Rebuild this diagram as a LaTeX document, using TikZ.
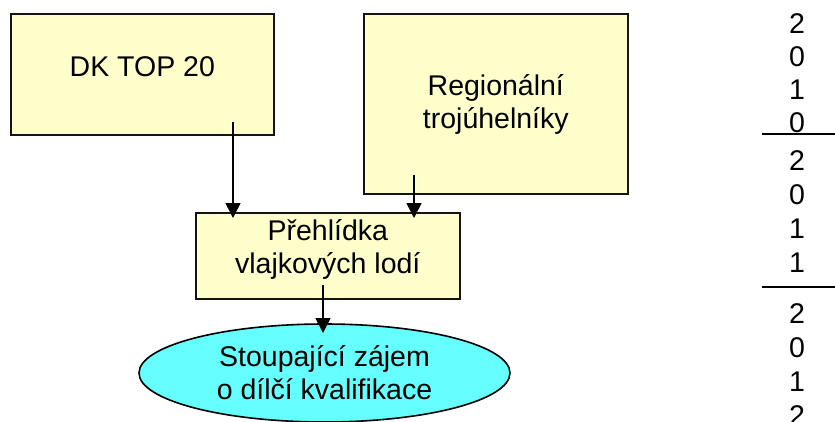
\documentclass[tikz,border=0pt]{standalone}
\usepackage{fontspec}
\setmainfont{Liberation Sans}
\usetikzlibrary{arrows.meta,shapes.geometric}
\definecolor{boxfill}{RGB}{255,255,204}
\definecolor{ellfill}{RGB}{102,255,255}
\definecolor{edge}{RGB}{20,20,20}
\tikzset{
  box/.style={draw=edge, fill=boxfill, line width=1.6pt, inner sep=0pt, anchor=north west},
  txt/.style={font=\fontsize{28.5}{33}\selectfont, align=center, inner sep=0pt},
  arr/.style={draw=black, line width=1.6pt, -{Triangle[width=15pt,length=15pt]}},
  rule/.style={draw=black, line width=1.6pt},
}
\begin{document}
\begin{tikzpicture}[x=1pt,y=-1pt]
\useasboundingbox (0,0) rectangle (835,421);
\clip (0,0) rectangle (835,421);
% boxes
\node[box, minimum width=263pt, minimum height=121pt,
      label={[txt,anchor=center,yshift=7.5pt]center:DK TOP 20}] (dk) at (10,13) {};
\node[box, minimum width=264pt, minimum height=180pt,
      label={[txt,anchor=center,yshift=-0.5pt]center:Regionální\\trojúhelníky}] (reg) at (363,13) {};
\node[box, minimum width=264pt, minimum height=86pt,
      label={[txt,anchor=center,yshift=6.5pt]center:Přehlídka\\vlajkových lodí}] (pr) at (195,212) {};
\node[ellipse, draw=black, fill=ellfill, line width=1.6pt, minimum width=371pt, minimum height=98pt, inner sep=0pt,
      txt, xshift=0pt] (el) at (324.5,373) {Stoupající zájem\\o dílčí kvalifikace};
% connector end points
\coordinate (a1s) at (233,122);
\coordinate (a1e) at (233,218);
\coordinate (a2s) at (414,175);
\coordinate (a2e) at (414,218);
\coordinate (a3s) at (323,285);
\coordinate (a3e) at (323,333);
\draw[arr] (a1s) -- (a1e);
\draw[arr] (a2s) -- (a2e);
\draw[arr] (a3s) -- (a3e);
% right column of years
\node[txt] (y1) at (797,73) {2\\0\\1\\0};
\node[txt, font=\fontsize{28.5}{34}\selectfont] (y2) at (797,212) {2\\0\\1\\1};
\node[txt, font=\fontsize{28.5}{34}\selectfont] (y3) at (797,365) {2\\0\\1\\2};
\draw[rule] (762,134) -- (835,134);
\draw[rule] (762,287) -- (835,287);
\end{tikzpicture}
\end{document}
